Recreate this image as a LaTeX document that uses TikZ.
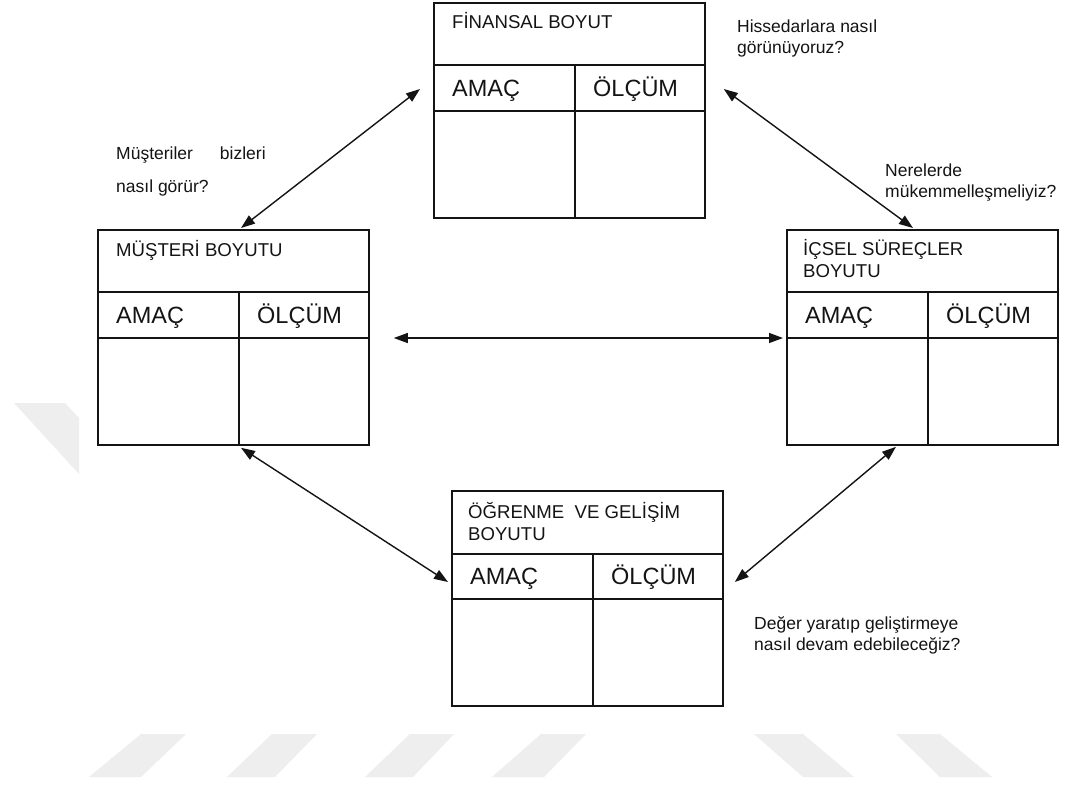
\documentclass[tikz,border=0pt]{standalone}
\usepackage{fontspec}
\setmainfont{Liberation Sans}
\usetikzlibrary{arrows.meta,positioning,calc}
\definecolor{WM-GRAY}{RGB}{238,238,238}
\definecolor{BSC-INK}{RGB}{20,20,20}

\begin{document}
\begin{tikzpicture}[x=1pt, y=-1pt,
    box/.style={draw=BSC-INK, line width=1.8pt, fill=white, minimum width=271pt,
      minimum height=215pt, inner sep=0pt, anchor=north west},
    rule/.style={line width=1.8pt, BSC-INK},
    boxtitle/.style={font=\fontsize{18.6}{22}\selectfont, align=left, anchor=base west,
      inner sep=0pt, text=BSC-INK},
    colhead/.style={font=\fontsize{23.5}{28}\selectfont, anchor=base west, inner sep=0pt,
      text=BSC-INK},
    question/.style={font=\fontsize{17.5}{21}\selectfont, align=left, anchor=base west,
      inner sep=0pt, text=BSC-INK},
    link/.style={{Triangle[length=14pt,width=10pt]}-{Triangle[length=14pt,width=10pt]},
      line width=1.4pt, draw=BSC-INK}]
  \useasboundingbox[fill=white] (0,0) rectangle (1077,785);

  % Watermark (faded)
  \fill[WM-GRAY] (14,403) -- (65,403) -- (79,418) -- (79,474) -- cycle;
  \fill[WM-GRAY] (141,734) -- (186,734) -- (141,777) -- (89,777) -- cycle;
  \fill[WM-GRAY] (272,734) -- (317,734) -- (275,777) -- (227,777) -- cycle;
  \fill[WM-GRAY] (410,734) -- (454,734) -- (413,777) -- (365,777) -- cycle;
  \fill[WM-GRAY] (541,734) -- (586,734) -- (544,777) -- (492,777) -- cycle;
  \fill[WM-GRAY] (754,734) -- (803,734) -- (854,777) -- (803,777) -- cycle;
  \fill[WM-GRAY] (896,734) -- (940,734) -- (992,777) -- (940,777) -- cycle;

  % Finansal boyut (top)
  \node[box] (fin) at (433,2) {};
  \draw[rule] ([yshift=-63pt]fin.north west) -- ([yshift=-63pt]fin.north east);
  \draw[rule] ([yshift=-109pt]fin.north west) -- ([yshift=-109pt]fin.north east);
  \draw[rule] ([shift={(142,63)}]fin.north west) -- ([xshift=142pt]fin.south west);
  \node[boxtitle] (finT) at ([shift={(19,26)}]fin.north west) {FİNANSAL BOYUT};
  \node[colhead] (finA) at ([shift={(19,94)}]fin.north west) {AMAÇ};
  \node[colhead] (finO) at ([shift={(160,94)}]fin.north west) {ÖLÇÜM};

  % Musteri boyutu (left)
  \node[box] (mus) at (97,229) {};
  \draw[rule] ([yshift=-63pt]mus.north west) -- ([yshift=-63pt]mus.north east);
  \draw[rule] ([yshift=-109pt]mus.north west) -- ([yshift=-109pt]mus.north east);
  \draw[rule] ([shift={(142,63)}]mus.north west) -- ([xshift=142pt]mus.south west);
  \node[boxtitle] (musT) at ([shift={(19,27)}]mus.north west) {MÜŞTERİ BOYUTU};
  \node[colhead] (musA) at ([shift={(19,94)}]mus.north west) {AMAÇ};
  \node[colhead] (musO) at ([shift={(160,94)}]mus.north west) {ÖLÇÜM};

  % Icsel surecler boyutu (right), base = last line
  \node[box] (ics) at (786,229) {};
  \draw[rule] ([yshift=-63pt]ics.north west) -- ([yshift=-63pt]ics.north east);
  \draw[rule] ([yshift=-109pt]ics.north west) -- ([yshift=-109pt]ics.north east);
  \draw[rule] ([shift={(142,63)}]ics.north west) -- ([xshift=142pt]ics.south west);
  \node[boxtitle] (icsT) at ([shift={(17,48)}]ics.north west) {İÇSEL SÜREÇLER\\BOYUTU};
  \node[colhead] (icsA) at ([shift={(19,94)}]ics.north west) {AMAÇ};
  \node[colhead] (icsO) at ([shift={(160,94)}]ics.north west) {ÖLÇÜM};

  % Ogrenme ve gelisim boyutu (bottom)
  \node[box] (ogr) at (451,490) {};
  \draw[rule] ([yshift=-64pt]ogr.north west) -- ([yshift=-64pt]ogr.north east);
  \draw[rule] ([yshift=-109pt]ogr.north west) -- ([yshift=-109pt]ogr.north east);
  \draw[rule] ([shift={(142,64)}]ogr.north west) -- ([xshift=142pt]ogr.south west);
  \node[boxtitle] (ogrT) at ([shift={(17,50)}]ogr.north west) {ÖĞRENME\ \ VE GELİŞİM\\BOYUTU};
  \node[colhead] (ogrA) at ([shift={(19,94)}]ogr.north west) {AMAÇ};
  \node[colhead] (ogrO) at ([shift={(160,94)}]ogr.north west) {ÖLÇÜM};

  % Questions (anchored on last line)
  \node[question] (qFin) at (737,53) {Hissedarlara nasıl\\görünüyoruz?};
  \node[question] (qMus) at (116,192) {Müşteriler\hspace{27pt}bizleri\\[12pt]nasıl görür?};
  \node[question] (qIcs) at (885,197) {Nerelerde\\mükemmelleşmeliyiz?};
  \node[question] (qOgr) at (754,650) {Değer yaratıp geliştirmeye\\nasıl devam edebileceğiz?};

  % Arrow ends
  \coordinate (finL) at ([shift={(-13,87)}]fin.north west);
  \coordinate (finR) at ([shift={(18,87)}]fin.north east);
  \coordinate (musN) at ([shift={(144,-1)}]mus.north west);
  \coordinate (musE) at ([shift={(24,109)}]mus.north east);
  \coordinate (musS) at ([shift={(144,2)}]mus.south west);
  \coordinate (icsN) at ([shift={(127,-1)}]ics.north west);
  \coordinate (icsW) at ([shift={(-3,109)}]ics.north west);
  \coordinate (icsS) at ([shift={(110,1)}]ics.south west);
  \coordinate (ogrW) at ([shift={(-3,92)}]ogr.north west);
  \coordinate (ogrE) at ([shift={(11,92)}]ogr.north east);

  \draw[link] (finL) -- (musN);
  \draw[link] (finR) -- (icsN);
  \draw[link] (musE) -- (icsW);
  \draw[link] (musS) -- (ogrW);
  \draw[link] (icsS) -- (ogrE);
\end{tikzpicture}
\end{document}
